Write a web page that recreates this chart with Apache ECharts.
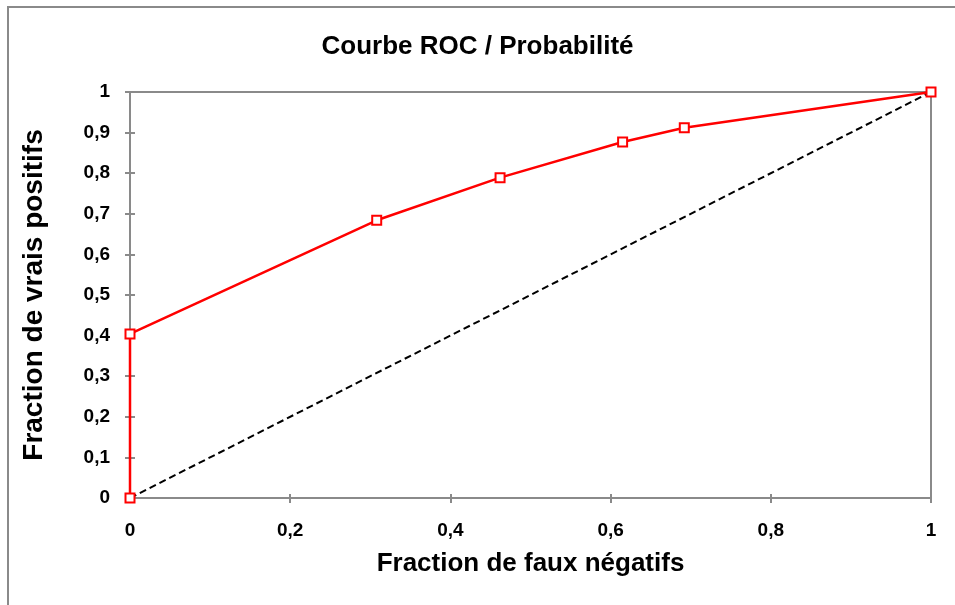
<!DOCTYPE html>
<html>
<head>
<meta charset="utf-8">
<script src="https://cdn.jsdelivr.net/npm/echarts@6/dist/echarts.min.js"></script>
<style>
  html, body { margin: 0; padding: 0; background: #fff; }
  #chart { width: 955px; height: 605px; }
</style>
</head>
<body>
<div id="chart"></div>
<script>
  // ROC curve points (fraction faux négatifs, fraction vrais positifs)
  var rocX = [0, 0, 0.308, 0.462, 0.615, 0.692, 1];
  var rocY = [0, 0.404, 0.684, 0.789, 0.877, 0.912, 1];
  // reference diagonal
  var diagX = [0, 1];
  var diagY = [0, 1];

  var titleText = 'Courbe ROC / Probabilité';
  var xName = 'Fraction de faux négatifs';
  var yName = 'Fraction de vrais positifs';

  var gray = '#8a8a8a';
  var font = '"Liberation Sans", Arial, sans-serif';

  function comma(v) {
    return String(v).replace('.', ',');
  }
  function pairs(xs, ys) {
    return xs.map(function (x, i) { return [x, ys[i]]; });
  }

  var myChart = echarts.init(document.getElementById('chart'));

  var baseX = {
    type: 'value', min: 0, max: 1, interval: 0.2,
    axisLine: { show: true, onZero: false, lineStyle: { color: gray, width: 2 } },
    splitLine: { show: false }
  };
  var baseY = {
    type: 'value', min: 0, max: 1, interval: 0.1,
    axisLine: { show: true, onZero: false, lineStyle: { color: gray, width: 2 } },
    splitLine: { show: false }
  };

  myChart.setOption({
    animation: false,
    backgroundColor: '#fff',
    graphic: [{
      type: 'rect',
      shape: { x: 8, y: 7, width: 1000, height: 700 },
      style: { fill: 'none', stroke: gray, lineWidth: 2 },
      silent: true, z: -1
    }],
    title: {
      text: titleText,
      left: 'center',
      top: 29,
      textStyle: { fontFamily: font, fontSize: 26, fontWeight: 'bold', color: '#000' }
    },
    grid: {
      left: 130, top: 92, right: 24, bottom: 107,
      show: true, borderColor: gray, borderWidth: 2
    },
    xAxis: [
      Object.assign({}, baseX, {
        position: 'bottom',
        name: xName, nameLocation: 'middle', nameGap: 53,
        nameTextStyle: { fontFamily: font, fontSize: 26, fontWeight: 'bold', color: '#000' },
        axisTick: { show: true, inside: false, length: 5, lineStyle: { color: gray, width: 2 } },
        axisLabel: {
          margin: 23, formatter: comma,
          fontFamily: font, fontSize: 19, fontWeight: 'bold', color: '#000'
        }
      }),
      Object.assign({}, baseX, {
        position: 'bottom',
        axisTick: { show: true, inside: true, length: 4, lineStyle: { color: gray, width: 2 } },
        axisLabel: { show: false }
      })
    ],
    yAxis: [
      Object.assign({}, baseY, {
        position: 'left',
        name: yName, nameLocation: 'middle', nameGap: 82,
        nameTextStyle: { fontFamily: font, fontSize: 28, fontWeight: 'bold', color: '#000' },
        axisTick: { show: true, inside: false, length: 5, lineStyle: { color: gray, width: 2 } },
        axisLabel: {
          margin: 20, formatter: comma,
          fontFamily: font, fontSize: 19, fontWeight: 'bold', color: '#000'
        }
      }),
      Object.assign({}, baseY, {
        position: 'left',
        axisTick: { show: true, inside: true, length: 5, lineStyle: { color: gray, width: 2 } },
        axisLabel: { show: false }
      })
    ],
    series: [
      {
        name: 'diagonale',
        type: 'line',
        data: pairs(diagX, diagY),
        showSymbol: false,
        symbol: 'none',
        lineStyle: { color: '#000', width: 2, type: [7, 4] },
        z: 2
      },
      {
        name: 'ROC',
        type: 'line',
        data: pairs(rocX, rocY),
        symbol: 'rect',
        symbolSize: 9,
        itemStyle: { color: '#fff', borderColor: '#ff0000', borderWidth: 2 },
        lineStyle: { color: '#ff0000', width: 2.5 },
        z: 3
      }
    ]
  });
</script>
</body>
</html>
